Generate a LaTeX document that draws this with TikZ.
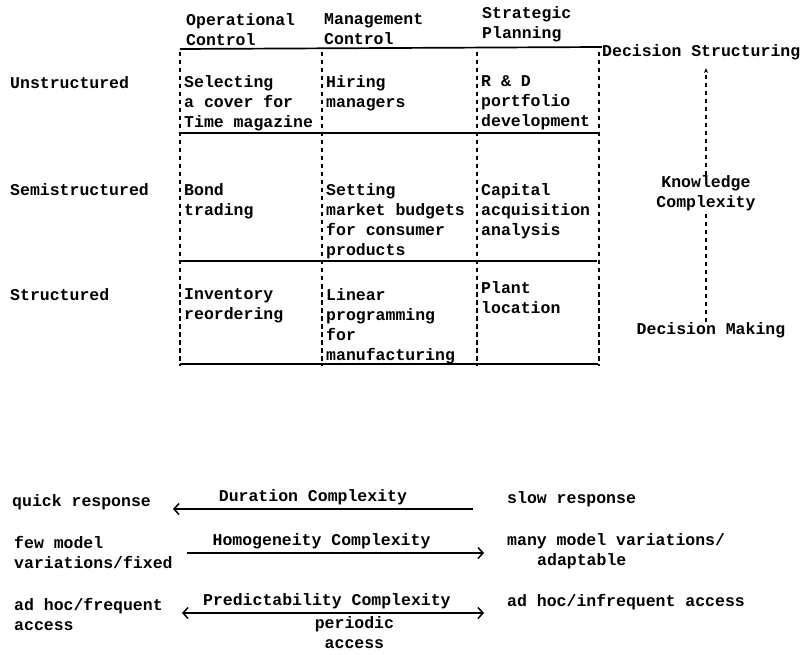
\documentclass[tikz,border=0pt]{standalone}
\usepackage{fontspec}
\setmonofont{Liberation Mono}
\usetikzlibrary{arrows.meta,positioning}

\begin{document}
\begin{tikzpicture}[x=1pt,y=-1pt,
        every node/.style={inner sep=0pt, align=left, font=\ttfamily\bfseries\fontsize{16.5}{20}\selectfont},
        celltext/.style={anchor=north west},
        rowlabel/.style={anchor=west},
        tableline/.style={line width=1.7pt},
        sepline/.style={dash pattern=on 4.5pt off 3.5pt, line width=1.2pt},
        axisline/.style={line width=1.5pt},
        chev/.tip={Straight Barb[length=5pt,width=11pt,line width=1.5pt,sep=2pt]}
    ]
  \useasboundingbox (0,0) rectangle (809,655);

  % Header
  \node (hoper) [celltext] at (186,13) {Operational\\Control};
  \node (hmgmt) [celltext] at (324,13) {Management\\Control};
  \node (hstrat) [celltext] at (482,6) {Strategic\\Planning};

  % Row labels
  \node (runstr) [rowlabel] at (10,83) {Unstructured};
  \node (rsemi) [rowlabel] at (10,190) {Semistructured};
  \node (rstr) [rowlabel] at (10,295) {Structured};

  % Cells
  \node (c11) [celltext] at (184,75) {Selecting\\a cover for\\Time magazine};
  \node (c12) [celltext] at (326,75) {Hiring\\managers};
  \node (c13) [celltext] at (481,75) {R \& D\\portfolio\\development};
  \node (c21) [celltext] at (184,183) {Bond\\trading};
  \node (c22) [celltext] at (326,183) {Setting\\market budgets\\for consumer\\products};
  \node (c23) [celltext] at (481,183) {Capital\\acquisition\\analysis};
  \node (c31) [celltext] at (184,288) {Inventory\\reordering};
  \node (c32) [celltext] at (326,288) {Linear\\programming\\for\\manufacturing};
  \node (c33) [celltext] at (481,281) {Plant\\location};

  % Grid
  \draw[tableline] (180,49) -- (602,47);
  \draw[tableline] (180,133) -- (600,133);
  \draw[tableline] (180,261) -- (597,261);
  \draw[tableline] (180,364) -- (598,364);
  \foreach \x in {180,322,477,599}
    \draw[sepline] (\x,52) -- (\x,366);

  % Knowledge complexity axis
  \node (dstruct) [rowlabel] at (602,52) {Decision Structuring};
  \node (kcomp) [align=center] at (706,193) {Knowledge\\Complexity};
  \node (dmake) [align=center] at (711,330) {Decision Making};
  \draw[sepline] (dmake.north -| kcomp) -- (kcomp.south);
  \draw[sepline, -{Stealth[length=5pt,width=4pt]}] (kcomp.north) -- ++(0,-107);

  % Complexity scales
  \node (quick) [rowlabel] at (12,502) {quick response};
  \node (slow) [rowlabel] at (507,499) {slow response};
  \node (fewm) [celltext] at (14,536) {few model\\variations/fixed};
  \node (manym) [celltext] at (507,533) {many model variations/\\\hspace*{30pt}adaptable};
  \node (adfreq) [celltext] at (14,598) {ad hoc/frequent\\access};
  \node (adinf) [rowlabel] at (507,602) {ad hoc/infrequent access};

  \coordinate (durl) at (171,509);
  \coordinate (durr) at (473,509);
  \coordinate (homl) at (187,553);
  \coordinate (homr) at (486,553);
  \coordinate (prel) at (180,613);
  \coordinate (prer) at (486,613);

  \draw[axisline, chev-] (durl) -- node[above=3pt, pos=.47] (dur) {Duration Complexity} (durr);
  \draw[axisline, -chev] (homl) -- node[above=3pt, pos=.45] (hom) {Homogeneity Complexity} (homr);
  \draw[axisline, chev-chev] (prel) -- node[above=3pt, pos=.48] (pre) {Predictability Complexity}
    node[below=3pt, pos=.57, align=center] (peri) {periodic\\access} (prer);
\end{tikzpicture}
\end{document}
